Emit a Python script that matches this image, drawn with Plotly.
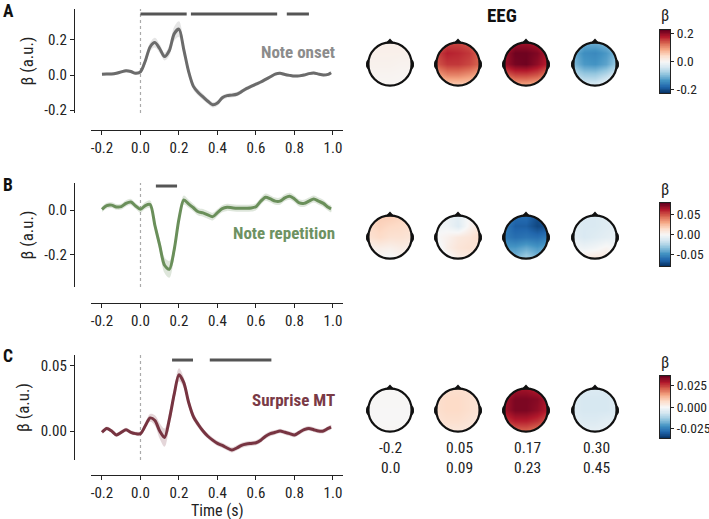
import plotly.graph_objects as go
import plotly.express as px

W, H = 709, 519
FONT = "Roboto Condensed, Liberation Sans Narrow, Roboto, sans-serif"

# ---------------- data ----------------
time = [round(-0.2 + 0.025 * i, 3) for i in range(48)] + [0.99]

onset = [0.005, 0.006, 0.006, 0.010, 0.018, 0.024, 0.020, 0.010, 0.018, 0.080,
         0.160, 0.185, 0.150, 0.105, 0.140, 0.235, 0.262, 0.145, 0.020, -0.065,
         -0.100, -0.125, -0.150, -0.170, -0.160, -0.130, -0.118, -0.115, -0.110, -0.095,
         -0.078, -0.065, -0.052, -0.040, -0.025, -0.010, 0.005, 0.010, 0.003, -0.002,
         -0.006, -0.005, 0.000, 0.008, 0.012, 0.005, 0.000, 0.004, 0.013]
onset_err = [0.008, 0.008, 0.008, 0.008, 0.009, 0.009, 0.010, 0.010, 0.012, 0.020,
             0.025, 0.028, 0.025, 0.022, 0.030, 0.040, 0.045, 0.035, 0.025, 0.020,
             0.018, 0.018, 0.016, 0.016, 0.015, 0.014, 0.013, 0.013, 0.013, 0.012,
             0.012, 0.011, 0.011, 0.010, 0.010, 0.009, 0.009, 0.009, 0.008, 0.008,
             0.008, 0.008, 0.008, 0.008, 0.008, 0.008, 0.008, 0.008, 0.008]

repetition = [0.003, 0.020, 0.022, 0.014, 0.015, 0.030, 0.036, 0.018, 0.003, 0.020,
              0.025, -0.070, -0.160, -0.250, -0.268, -0.180, -0.040, 0.045, 0.028, 0.010,
              -0.008, -0.013, -0.022, -0.030, -0.012, 0.006, 0.012, 0.010, 0.008, 0.008,
              0.008, 0.009, 0.015, 0.040, 0.058, 0.050, 0.040, 0.040, 0.055, 0.062,
              0.050, 0.032, 0.030, 0.040, 0.050, 0.040, 0.030, 0.012, 0.005]
repetition_err = [0.012, 0.013, 0.013, 0.013, 0.013, 0.014, 0.014, 0.014, 0.015, 0.016,
                  0.018, 0.022, 0.028, 0.035, 0.038, 0.030, 0.022, 0.020, 0.018, 0.017,
                  0.017, 0.017, 0.017, 0.017, 0.016, 0.016, 0.016, 0.016, 0.016, 0.016,
                  0.016, 0.016, 0.016, 0.016, 0.016, 0.016, 0.016, 0.016, 0.016, 0.016,
                  0.016, 0.016, 0.016, 0.016, 0.016, 0.016, 0.016, 0.015, 0.015]

surprise = [-0.001, 0.002, 0.000, -0.003, -0.001, 0.001, -0.001, -0.002, -0.002, 0.004,
            0.010, 0.008, 0.000, -0.005, 0.009, 0.028, 0.043, 0.037, 0.022, 0.011,
            0.005, 0.000, -0.004, -0.007, -0.0095, -0.011, -0.013, -0.0145, -0.013, -0.011,
            -0.010, -0.0095, -0.009, -0.007, -0.004, -0.002, -0.001, 0.000, -0.001, -0.002,
            -0.003, -0.001, 0.001, 0.002, 0.001, 0.000, 0.000, 0.002, 0.003]
surprise_err = [0.0015, 0.0015, 0.0015, 0.0015, 0.0015, 0.0015, 0.0015, 0.0015, 0.0018, 0.0025,
                0.003, 0.004, 0.006, 0.007, 0.006, 0.005, 0.005, 0.004, 0.0035, 0.003,
                0.0025, 0.0022, 0.002, 0.002, 0.002, 0.002, 0.002, 0.002, 0.002, 0.002,
                0.002, 0.002, 0.002, 0.002, 0.002, 0.002, 0.0018, 0.0018, 0.0018, 0.0018,
                0.0018, 0.0018, 0.0018, 0.0018, 0.0018, 0.0018, 0.0018, 0.0018, 0.0018]

sig_onset = [(0.0, 0.24), (0.262, 0.71), (0.76, 0.875)]
sig_repetition = [(0.08, 0.19)]
sig_surprise = [(0.164, 0.273), (0.36, 0.68)]

x_ticks = [-0.2, 0.0, 0.2, 0.4, 0.6, 0.8, 1.0]
x_ticklabels = ["-0.2", "0.0", "0.2", "0.4", "0.6", "0.8", "1.0"]

windows = ["-0.2<br>0.0", "0.05<br>0.09", "0.17<br>0.23", "0.30<br>0.45"]

# topomap coarse grids (rows: front of head -> back), 5x5 each
topo_onset = [
    [[0.012, 0.014, 0.014, 0.014, 0.012], [0.012, 0.012, 0.012, 0.012, 0.010], [0.010, 0.010, 0.010, 0.008, 0.008],
     [0.006, 0.006, 0.006, 0.005, 0.005], [0.004, 0.004, 0.004, 0.004, 0.004]],
    [[0.120, 0.150, 0.150, 0.140, 0.110], [0.150, 0.175, 0.170, 0.160, 0.130], [0.140, 0.160, 0.160, 0.150, 0.130],
     [0.090, 0.110, 0.110, 0.100, 0.080], [0.040, 0.050, 0.050, 0.050, 0.040]],
    [[0.160, 0.190, 0.190, 0.180, 0.150], [0.190, 0.220, 0.220, 0.210, 0.180], [0.190, 0.215, 0.220, 0.200, 0.170],
     [0.130, 0.150, 0.150, 0.140, 0.110], [0.060, 0.080, 0.080, 0.070, 0.050]],
    [[-0.080, -0.110, -0.110, -0.100, -0.080], [-0.110, -0.140, -0.145, -0.130, -0.100], [-0.100, -0.130, -0.135, -0.120, -0.080],
     [-0.060, -0.080, -0.080, -0.060, -0.030], [-0.020, -0.030, -0.030, -0.010, 0.000]],
]
topo_repetition = [
    [[0.015, 0.020, 0.020, 0.018, 0.015], [0.015, 0.018, 0.016, 0.015, 0.013], [0.012, 0.015, 0.012, 0.012, 0.010],
     [0.003, 0.005, 0.004, 0.006, 0.004], [-0.003, 0.000, -0.002, 0.002, 0.000]],
    [[0.000, -0.005, -0.008, 0.000, 0.005], [-0.003, -0.003, -0.010, 0.002, 0.010], [0.000, 0.003, 0.008, 0.010, 0.015],
     [-0.006, 0.005, 0.010, 0.012, 0.010], [-0.008, -0.003, 0.005, 0.006, 0.004]],
    [[-0.050, -0.060, -0.060, -0.070, -0.065], [-0.055, -0.065, -0.065, -0.072, -0.070], [-0.055, -0.060, -0.058, -0.060, -0.055],
     [-0.045, -0.045, -0.040, -0.045, -0.040], [-0.030, -0.035, -0.025, -0.035, -0.030]],
    [[-0.008, -0.012, -0.012, -0.010, -0.008], [-0.010, -0.012, -0.012, -0.010, -0.008], [-0.008, -0.012, -0.010, -0.008, -0.006],
     [-0.002, -0.004, -0.002, 0.002, -0.002], [0.004, 0.008, 0.010, 0.008, 0.002]],
]
topo_surprise = [
    [[0.0003, 0.0004, 0.0004, 0.0003, 0.0003], [0.0003, 0.0003, 0.0003, 0.0003, 0.0002], [0.0002, 0.0002, 0.0002, 0.0002, 0.0002],
     [0.0002, 0.0002, 0.0002, 0.0002, 0.0002], [0.0004, 0.0005, 0.0006, 0.0005, 0.0004]],
    [[0.005, 0.006, 0.006, 0.006, 0.005], [0.006, 0.007, 0.007, 0.006, 0.005], [0.006, 0.007, 0.007, 0.006, 0.005],
     [0.005, 0.006, 0.006, 0.005, 0.004], [0.003, 0.004, 0.004, 0.004, 0.003]],
    [[0.026, 0.030, 0.030, 0.028, 0.025], [0.030, 0.034, 0.034, 0.033, 0.029], [0.030, 0.034, 0.034, 0.032, 0.028],
     [0.025, 0.028, 0.028, 0.026, 0.022], [0.016, 0.020, 0.020, 0.018, 0.014]],
    [[-0.004, -0.005, -0.005, -0.005, -0.004], [-0.005, -0.006, -0.006, -0.006, -0.005], [-0.005, -0.006, -0.006, -0.006, -0.005],
     [-0.004, -0.005, -0.005, -0.004, -0.004], [-0.002, -0.003, -0.003, -0.003, -0.002]],
]
grid = [-1.0, -0.5, 0.0, 0.5, 1.0]

# ---------------- helpers ----------------
def px_x(p):
    return p / W

def px_y(p):
    return 1 - p / H

rdbu_r = px.colors.diverging.RdBu[::-1]
n = len(rdbu_r)
colorscale = [[i / (n - 1), c] for i, c in enumerate(rdbu_r)]

fig = go.Figure()
shapes = []
annotations = []
layout = {}

panels = [
    dict(label="A", name="Note onset", y=onset, err=onset_err, sig=sig_onset,
         line="#6b6b6b", band="rgba(150,150,150,0.25)", txt="#8c8c8c",
         ytop=9, ybot=113, xline=130, yrange=[-0.217, 0.377],
         yticks=[-0.2, 0.0, 0.2], yticklabels=["-0.2", "0.0", "0.2"],
         sig_frac=0.952, name_y=52, label_y=11.5,
         topo=topo_onset, head_y=64, cmax=0.225, cb=(30, 93),
         cbt=[-0.2, 0.0, 0.2], cbl=["-0.2", "0.0", "0.2"]),
    dict(label="B", name="Note repetition", y=repetition, err=repetition_err, sig=sig_repetition,
         line="#6a8f5a", band="rgba(106,143,90,0.22)", txt="#6e9262",
         ytop=183, ybot=287, xline=303, yrange=[-0.348, 0.122],
         yticks=[-0.2, 0.0], yticklabels=["-0.2", "0.0"],
         sig_frac=0.971, name_y=233, label_y=185,
         topo=topo_repetition, head_y=237, cmax=0.079, cb=(203, 266),
         cbt=[-0.05, 0.0, 0.05], cbl=["-0.05", "0.00", "0.05"]),
    dict(label="C", name="Surprise MT", y=surprise, err=surprise_err, sig=sig_surprise,
         line="#773441", band="rgba(119,52,65,0.2)", txt="#7a3a46",
         ytop=355, ybot=460, xline=475, yrange=[-0.0222, 0.0582],
         yticks=[0.0, 0.05], yticklabels=["0.00", "0.05"],
         sig_frac=0.952, name_y=400, label_y=356,
         topo=topo_surprise, head_y=410, cmax=0.036, cb=(376, 438),
         cbt=[-0.025, 0.0, 0.025], cbl=["-0.025", "0.000", "0.025"]),
]

X_L, X_R = 91, 343
head_xs = [390, 458, 526, 595]
R = 21.7
HALF = 1.3 * R
TICKF = dict(family=FONT, size=15, color="#222")
HIDDEN = dict(showgrid=False, zeroline=False, showline=False, showticklabels=False, ticks="",
              fixedrange=True, autorange=False)

k = 0.5523
circ = ("M 1,0 C 1,{k} {k},1 0,1 C -{k},1 -1,{k} -1,0 C -1,-{k} -{k},-1 0,-1 "
        "C {k},-1 1,-{k} 1,0 Z").format(k=k)
mask_path = "M -3,-3 L 3,-3 L 3,3 L -3,3 Z " + circ

ax_id = 1
for pi, p in enumerate(panels):
    xa = "x" if ax_id == 1 else f"x{ax_id}"
    ya = "y" if ax_id == 1 else f"y{ax_id}"
    xkey = "xaxis" if ax_id == 1 else f"xaxis{ax_id}"
    ykey = "yaxis" if ax_id == 1 else f"yaxis{ax_id}"
    upper = [v + e for v, e in zip(p["y"], p["err"])]
    lower = [v - e for v, e in zip(p["y"], p["err"])]
    fig.add_trace(go.Scatter(x=time + time[::-1], y=upper + lower[::-1], fill="toself",
                             fillcolor=p["band"], line=dict(width=0, shape="spline"),
                             mode="lines", hoverinfo="skip", xaxis=xa, yaxis=ya))
    fig.add_trace(go.Scatter(x=time, y=p["y"], mode="lines",
                             line=dict(color=p["line"], width=3, shape="spline", smoothing=0.8),
                             xaxis=xa, yaxis=ya))
    layout[xkey] = dict(domain=[px_x(X_L), px_x(X_R)], anchor="free", position=px_y(p["xline"]),
                        range=[-0.257, 1.052], autorange=False, showgrid=False, zeroline=False,
                        showline=True, linecolor="#222", linewidth=1.3,
                        ticks="outside", ticklen=4, tickwidth=1.2, tickcolor="#222",
                        tickvals=x_ticks, ticktext=x_ticklabels, tickfont=TICKF, automargin=False)
    layout[ykey] = dict(domain=[px_y(p["ybot"]), px_y(p["ytop"])], anchor="free", position=px_x(74),
                        range=p["yrange"], autorange=False, showgrid=False, zeroline=False,
                        showline=True, linecolor="#222", linewidth=1.3,
                        ticks="outside", ticklen=4, tickwidth=1.2, tickcolor="#222",
                        tickvals=p["yticks"], ticktext=p["yticklabels"], tickfont=TICKF,
                        automargin=False,
                        title=dict(text="β (a.u.)", font=dict(family=FONT, size=17, color="#222"),
                                   standoff=5))
    shapes.append(dict(type="line", xref=xa, yref=f"{ya} domain", x0=0, x1=0, y0=0, y1=1,
                       line=dict(color="#aaaaaa", width=1.2, dash="dot"), layer="below"))
    for (s0, s1) in p["sig"]:
        shapes.append(dict(type="line", xref=xa, yref=f"{ya} domain", x0=s0, x1=s1,
                           y0=p["sig_frac"], y1=p["sig_frac"],
                           line=dict(color="#555555", width=3)))
    annotations.append(dict(text=f"<b>{p['name']}</b>", xref="paper", yref="paper",
                            x=px_x(337), y=px_y(p["name_y"]), xanchor="right", yanchor="middle",
                            showarrow=False, font=dict(family=FONT, size=17, color=p["txt"])))
    annotations.append(dict(text=f"<b>{p['label']}</b>", xref="paper", yref="paper",
                            x=px_x(1), y=px_y(p["label_y"]), xanchor="left", yanchor="middle",
                            showarrow=False, font=dict(family=FONT, size=17.5, color="#111")))
    ax_id += 1

annotations.append(dict(text="Time (s)", xref="paper", yref="paper", x=px_x(217), y=px_y(510),
                        xanchor="center", yanchor="middle", showarrow=False,
                        font=dict(family=FONT, size=16, color="#222")))

# topomaps + colorbars
for pi, p in enumerate(panels):
    ca = "coloraxis" if pi == 0 else f"coloraxis{pi + 1}"
    cy = p["head_y"]
    for hi, cx in enumerate(head_xs):
        xa = f"x{ax_id}"
        ya = f"y{ax_id}"
        rows = p["topo"][hi][::-1]
        fig.add_trace(go.Heatmap(x=grid, y=grid, z=rows, zsmooth="best", coloraxis=ca,
                                 xaxis=xa, yaxis=ya, hoverinfo="skip"))
        layout[f"xaxis{ax_id}"] = dict(domain=[px_x(cx - HALF), px_x(cx + HALF)], anchor=ya,
                                       range=[-1.3, 1.3], **HIDDEN)
        layout[f"yaxis{ax_id}"] = dict(domain=[px_y(cy + HALF), px_y(cy - HALF)], anchor=xa,
                                       range=[-1.3, 1.3], **HIDDEN)
        shapes.append(dict(type="path", xref=xa, yref=ya, path=mask_path, fillrule="evenodd",
                           fillcolor="white", line=dict(width=0)))
        shapes.append(dict(type="path", xref=xa, yref=ya,
                           path="M -0.13,0.985 L 0,1.12 L 0.13,0.985 Z",
                           fillcolor="#111", line=dict(color="#111", width=1.5)))
        for sgn in (1, -1):
            shapes.append(dict(type="path", xref=xa, yref=ya,
                               path=f"M {sgn*0.98},0.17 L {sgn*1.05},0.15 L {sgn*1.08},0.05 "
                                    f"L {sgn*1.08},-0.1 L {sgn*1.04},-0.2 L {sgn*0.98},-0.2 Z",
                               fillcolor="#111", line=dict(color="#111", width=1)))
        shapes.append(dict(type="circle", xref=xa, yref=ya, x0=-1, x1=1, y0=-1, y1=1,
                           line=dict(color="#111", width=2.2)))
        if pi == 2:
            annotations.append(dict(text=windows[hi], xref="paper", yref="paper",
                                    x=px_x(cx + 1), y=px_y(458), xanchor="center", yanchor="middle",
                                    showarrow=False, align="center",
                                    font=dict(family=FONT, size=15.5, color="#222")))
        ax_id += 1
    layout[ca] = dict(colorscale=colorscale, cmin=-p["cmax"], cmax=p["cmax"], showscale=False)
    cb_top, cb_bot = p["cb"]
    nlev = 101
    levels = [-p["cmax"] + 2 * p["cmax"] * i / (nlev - 1) for i in range(nlev)]
    xa = f"x{ax_id}"
    ya = f"y{ax_id}"
    fig.add_trace(go.Heatmap(x=[0, 1], y=levels, z=[[v, v] for v in levels], zsmooth="best",
                             coloraxis=ca, xaxis=xa, yaxis=ya, hoverinfo="skip"))
    layout[f"xaxis{ax_id}"] = dict(domain=[px_x(660), px_x(670)], anchor=ya, range=[0, 1],
                                   autorange=False, showticklabels=False, ticks="",
                                   showgrid=False, zeroline=False, showline=True, mirror=True,
                                   linecolor="#222", linewidth=1.2, fixedrange=True)
    layout[f"yaxis{ax_id}"] = dict(domain=[px_y(cb_bot), px_y(cb_top)], anchor=xa, side="right",
                                   range=[-p["cmax"], p["cmax"]], autorange=False,
                                   showgrid=False, zeroline=False, showline=True, mirror=True,
                                   linecolor="#222", linewidth=1.2, fixedrange=True,
                                   ticks="outside", ticklen=3, tickwidth=1.2, tickcolor="#222",
                                   tickvals=p["cbt"], ticktext=p["cbl"],
                                   tickfont=dict(family=FONT, size=13.5, color="#222"),
                                   automargin=False)
    annotations.append(dict(text="β", xref="paper", yref="paper", x=px_x(665),
                            y=px_y(cb_top - 14), xanchor="center", yanchor="middle",
                            showarrow=False, font=dict(family=FONT, size=16, color="#222")))
    ax_id += 1

annotations.append(dict(text="<b>EEG</b>", xref="paper", yref="paper", x=px_x(502), y=px_y(16),
                        xanchor="center", yanchor="middle", showarrow=False,
                        font=dict(family=FONT, size=19, color="#111")))

fig.update_layout(width=W, height=H, margin=dict(l=0, r=0, t=0, b=0, autoexpand=False),
                  paper_bgcolor="white", plot_bgcolor="white", showlegend=False,
                  shapes=shapes, annotations=annotations, **layout)

fig.write_html("out.html", config={"displayModeBar": False},
               post_script="document.body.style.margin='0';document.body.style.overflow='hidden';")
